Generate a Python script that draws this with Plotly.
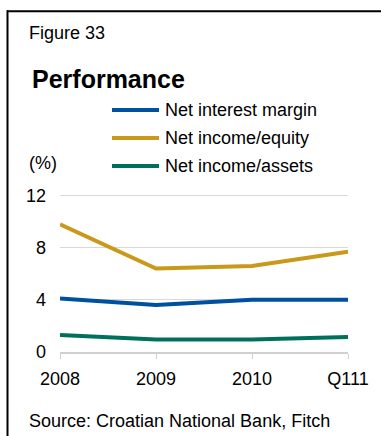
import plotly.graph_objects as go

# Data
periods = ["2008", "2009", "2010", "Q111"]
series_names = ["Net interest margin", "Net income/equity", "Net income/assets"]
net_interest_margin = [4.1, 3.6, 4.0, 4.0]
net_income_equity = [9.8, 6.4, 6.6, 7.7]
net_income_assets = [1.3, 0.95, 0.95, 1.15]
y_ticks = [0, 4, 8, 12]

colors = ["#0050A0", "#C8991A", "#00705C"]
values = [net_interest_margin, net_income_equity, net_income_assets]

W, H = 381, 436
Y_MAX = 12.2
L, R, B = 60, 33, 84
T = 196 - 13 * (Y_MAX - 12)
PW, PH = W - L - R, H - T - B
FONT = "Arial, Liberation Sans, sans-serif"


def px(x):
    return (x - L) / PW


def py(y):
    return (H - B - y) / PH


fig = go.Figure()
xs = list(range(len(periods)))
for name, vals, col in zip(series_names, values, colors):
    fig.add_trace(go.Scatter(x=xs, y=vals, mode="lines", name=name,
                             line=dict(color=col, width=4), showlegend=False,
                             hoverinfo="skip"))

shapes = []
annotations = []

# Frame: top and left rules
shapes.append(dict(type="line", xref="paper", yref="paper",
                   x0=px(7), x1=px(W + 2), y0=py(12), y1=py(12),
                   line=dict(color="black", width=2)))
shapes.append(dict(type="line", xref="paper", yref="paper",
                   x0=px(7.5), x1=px(7.5), y0=py(11), y1=py(H + 2),
                   line=dict(color="black", width=2)))

# Legend
leg_y = [110.5, 138.5, 166.5]
for name, col, yy in zip(series_names, colors, leg_y):
    shapes.append(dict(type="line", xref="paper", yref="paper",
                       x0=px(112), x1=px(159), y0=py(yy), y1=py(yy),
                       line=dict(color=col, width=4)))
    annotations.append(dict(text=name, xref="paper", yref="paper",
                            x=px(163), y=py(yy), xanchor="left", yanchor="middle",
                            showarrow=False, font=dict(size=18, color="black", family=FONT)))

annotations += [
    dict(text="Figure 33", xref="paper", yref="paper", x=px(26.5), y=py(34),
         xanchor="left", yanchor="middle", showarrow=False,
         font=dict(size=18, color="black", family=FONT)),
    dict(text="<b>Performance</b>", xref="paper", yref="paper", x=px(30), y=py(80),
         xanchor="left", yanchor="middle", showarrow=False,
         font=dict(size=25, color="black", family=FONT)),
    dict(text="(%)", xref="paper", yref="paper", x=px(26.5), y=py(163),
         xanchor="left", yanchor="middle", showarrow=False,
         font=dict(size=18, color="black", family=FONT)),
    dict(text="Source: Croatian National Bank, Fitch", xref="paper", yref="paper",
         x=px(26.5), y=py(421), xanchor="left", yanchor="middle", showarrow=False,
         font=dict(size=18, color="black", family=FONT)),
]

fig.update_layout(
    width=W, height=H,
    margin=dict(l=L, r=R, t=T, b=B, pad=0),
    paper_bgcolor="white", plot_bgcolor="white",
    showlegend=False,
    shapes=shapes, annotations=annotations,
    font=dict(family=FONT, size=18, color="black"),
)
fig.update_xaxes(range=[0, len(periods) - 1], tickvals=xs, ticktext=periods,
                 showgrid=False, zeroline=False,
                 showline=True, linecolor="#D0D0D0", linewidth=1.5,
                 ticks="outside", ticklen=5, tickcolor="#D0D0D0", tickwidth=1,
                 ticklabelstandoff=5,
                 tickfont=dict(size=18, color="black", family=FONT))
fig.update_yaxes(range=[0, Y_MAX], tickvals=y_ticks,
                 showgrid=True, gridcolor="#D9D9D9", gridwidth=1,
                 zeroline=False, showline=False, ticks="",
                 ticklabelstandoff=13,
                 tickfont=dict(size=18, color="black", family=FONT))

fig.write_html("out.html")
